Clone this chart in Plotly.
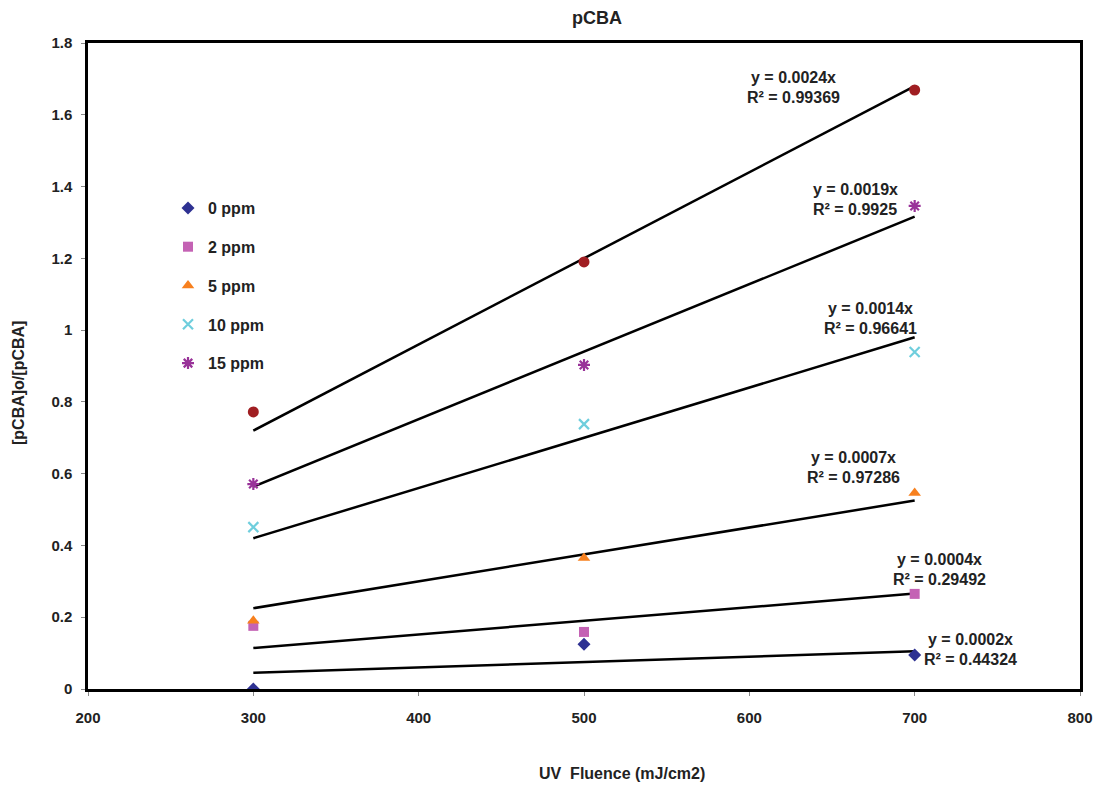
import plotly.graph_objects as go

fluence = [300, 500, 700]

series_names = ["0 ppm", "2 ppm", "5 ppm", "10 ppm", "15 ppm"]
ppm0 = [0.0, 0.125, 0.095]
ppm2 = [0.176, 0.159, 0.265]
ppm5 = [0.19, 0.365, 0.546]
ppm10 = [0.451, 0.738, 0.939]
ppm15 = [0.571, 0.903, 1.346]
extra = [0.772, 1.19, 1.669]  # unlabelled series (dark red circles)

trend_slopes = [0.00015, 0.00038, 0.00075, 0.0014, 0.00188, 0.0024]
eq_labels = ["y = 0.0002x", "y = 0.0004x", "y = 0.0007x", "y = 0.0014x", "y = 0.0019x", "y = 0.0024x"]
r2_labels = ["R² = 0.44324", "R² = 0.29492", "R² = 0.97286", "R² = 0.96641", "R² = 0.9925", "R² = 0.99369"]
label_x = [733.5, 715, 663, 673, 664, 627]
label_y = [0.109, 0.332, 0.616, 1.031, 1.365, 1.677]

FONT = "Liberation Sans"
TXT = "#222222"

fig = go.Figure()

# trendlines
for s in trend_slopes:
    xs = [fluence[0], fluence[-1]]
    fig.add_trace(go.Scatter(x=xs, y=[s * v for v in xs], mode="lines",
                             line=dict(color="black", width=2.5), showlegend=False,
                             hoverinfo="skip"))

styles = [
    dict(symbol="diamond", color="#2E3192", size=10, line=dict(width=0)),
    dict(symbol="square", color="#C462B4", size=10, line=dict(width=0)),
    dict(symbol="triangle-up", color="#F7801E", size=11, line=dict(width=0)),
    dict(symbol="x-thin-open", color="#6FCEDD", size=10, line=dict(width=2.2, color="#6FCEDD")),
    dict(symbol="asterisk-open", color="#993399", size=10, line=dict(width=2.2, color="#993399")),
]
for i, (name, vals) in enumerate(zip(series_names, [ppm0, ppm2, ppm5, ppm10, ppm15])):
    fig.add_trace(go.Scatter(x=fluence, y=vals, mode="markers", name=name,
                             marker=styles[i], legendgroup=name))

fig.add_trace(go.Scatter(x=fluence, y=extra, mode="markers", showlegend=False,
                         marker=dict(symbol="circle", color="#A01E22", size=11)))

annotations = []
for lx, ly, e, r in zip(label_x, label_y, eq_labels, r2_labels):
    annotations.append(dict(x=lx, y=ly, xref="x", yref="y", text=e, showarrow=False,
                            yshift=10, font=dict(family=FONT, size=16, color=TXT, weight="bold")))
    annotations.append(dict(x=lx, y=ly, xref="x", yref="y", text=r, showarrow=False,
                            yshift=-10, font=dict(family=FONT, size=16, color=TXT, weight="bold")))

annotations.append(dict(text="UV  Fluence (mJ/cm2)", xref="paper", yref="paper",
                        x=(622 - 88) / 992, y=-(773 - 689) / 646, showarrow=False,
                        xanchor="center", yanchor="middle",
                        font=dict(family=FONT, size=16, color=TXT, weight="bold")))
annotations.append(dict(text="[pCBA]o/[pCBA]", xref="paper", yref="paper",
                        x=-(88 - 18) / 992, y=(689 - 383) / 646, showarrow=False, textangle=-90,
                        xanchor="center", yanchor="middle",
                        font=dict(family=FONT, size=16, color=TXT, weight="bold")))

fig.update_layout(
    width=1097, height=788,
    margin=dict(l=88, r=17, t=43, b=99),
    paper_bgcolor="white", plot_bgcolor="white",
    font=dict(family=FONT, size=15, color=TXT, weight="bold"),
    title=dict(text="pCBA", x=597 / 1097, xanchor="center", y=1 - 18 / 788, yanchor="middle",
               font=dict(family=FONT, size=18, color=TXT, weight="bold")),
    showlegend=True,
    legend=dict(x=(168 - 88) / 992, y=(689 - 191) / 646, xanchor="left", yanchor="top",
                bgcolor="rgba(0,0,0,0)", tracegroupgap=15,
                font=dict(family=FONT, size=16, color=TXT, weight="bold")),
    annotations=annotations,
)
fig.update_xaxes(range=[200, 800], dtick=100, showgrid=False, zeroline=False, automargin=False,
                 showline=True, mirror=True, linecolor="black", linewidth=2.5,
                 ticks="outside", ticklen=4, tickcolor="#888", tickwidth=1, ticklabelstandoff=9,
                 tickfont=dict(family=FONT, size=15, color=TXT, weight="bold"))
fig.update_yaxes(range=[0, 1.8], dtick=0.2, showgrid=False, zeroline=False, automargin=False,
                 showline=True, mirror=True, linecolor="black", linewidth=2.5,
                 ticks="outside", ticklen=4, tickcolor="#888", tickwidth=1, ticklabelstandoff=6,
                 tickfont=dict(family=FONT, size=15, color=TXT, weight="bold"))

fig.write_html("out.html")
